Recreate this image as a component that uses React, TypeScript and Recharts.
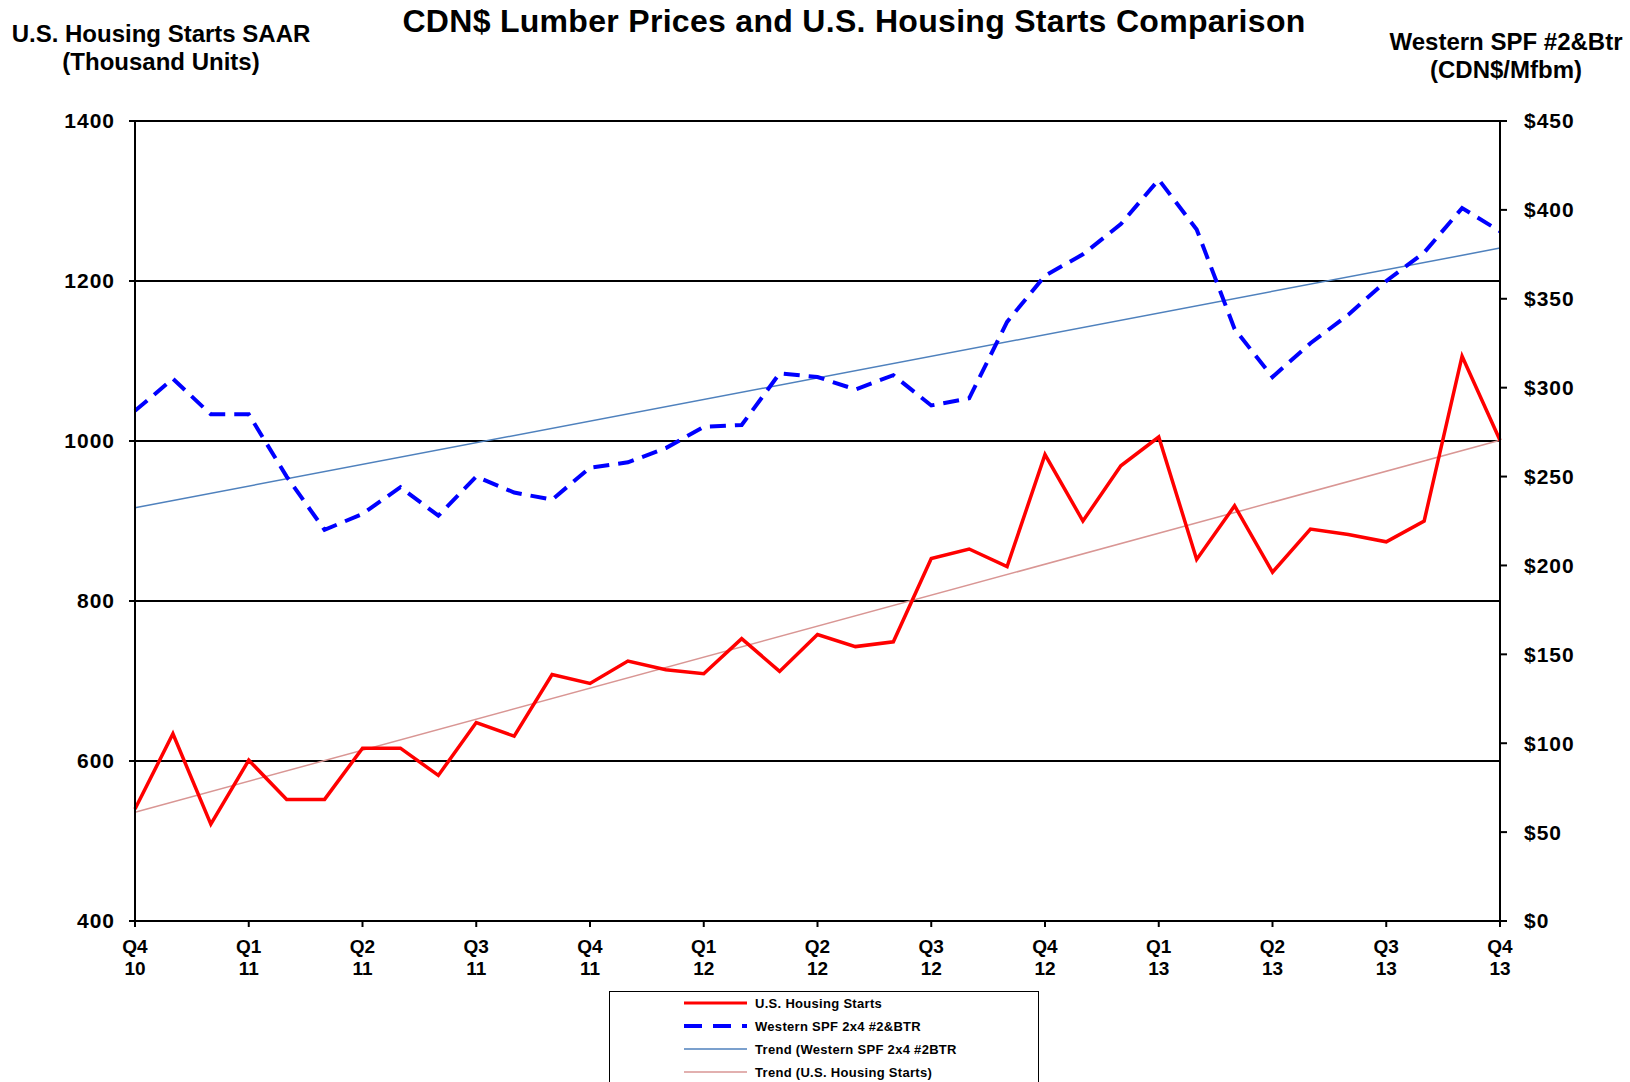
import React from "react";
import { LineChart, Line, XAxis, YAxis, CartesianGrid } from "recharts";

// monthly, Oct 2010 .. Oct 2013
const months = [
  "2010-10", "2010-11", "2010-12",
  "2011-01", "2011-02", "2011-03", "2011-04", "2011-05", "2011-06",
  "2011-07", "2011-08", "2011-09", "2011-10", "2011-11", "2011-12",
  "2012-01", "2012-02", "2012-03", "2012-04", "2012-05", "2012-06",
  "2012-07", "2012-08", "2012-09", "2012-10", "2012-11", "2012-12",
  "2013-01", "2013-02", "2013-03", "2013-04", "2013-05", "2013-06",
  "2013-07", "2013-08", "2013-09", "2013-10",
];

// one label per quarter (every 3rd month)
const quarterTicks = [
  ["Q4", "10"], ["Q1", "11"], ["Q2", "11"], ["Q3", "11"], ["Q4", "11"],
  ["Q1", "12"], ["Q2", "12"], ["Q3", "12"], ["Q4", "12"],
  ["Q1", "13"], ["Q2", "13"], ["Q3", "13"], ["Q4", "13"],
];

// U.S. housing starts, SAAR, thousand units
const housingStarts = [
  540, 634, 521, 601, 552, 552, 616, 616, 582, 648, 631, 708, 697, 725, 714,
  709, 753, 712, 758, 743, 749, 853, 865, 843, 983, 900, 969, 1005, 852, 919,
  836, 890, 883, 874, 900, 1106, 1001,
];

// Western SPF 2x4 #2&Btr, CDN$/Mfbm
const lumberPrice = [
  287, 305, 285, 285, 250, 220, 229, 244, 228, 250, 241, 237, 255, 258, 266,
  278, 279, 308, 306, 299, 307, 290, 294, 337, 363, 375, 392, 417, 389, 333,
  306, 325, 341, 360, 376, 401, 388,
];

// trend line end points (first and last month)
const lumberTrendEnds = [232.5, 378.5];
const startsTrendEnds = [536, 1001];

const leftTicks = [400, 600, 800, 1000, 1200, 1400];
const rightTicks = [0, 50, 100, 150, 200, 250, 300, 350, 400, 450];

const last = months.length - 1;
const data = months.map((m, i) => ({
  month: m,
  starts: housingStarts[i],
  lumber: lumberPrice[i],
  lumberTrend: i === 0 ? lumberTrendEnds[0] : i === last ? lumberTrendEnds[1] : null,
  startsTrend: i === 0 ? startsTrendEnds[0] : i === last ? startsTrendEnds[1] : null,
}));

const FONT = "'Liberation Sans', Arial, sans-serif";

const QuarterTick = (props: any) => {
  const { x, y, payload } = props;
  const q = quarterTicks[Math.round(payload.index / 3)] ?? ["", ""];
  return (
    <g>
      <text x={x} y={y + 24} textAnchor="middle" fontSize={19} fontWeight="bold" fill="#000" fontFamily={FONT}>
        {q[0]}
      </text>
      <text x={x} y={y + 46} textAnchor="middle" fontSize={19} fontWeight="bold" fill="#000" fontFamily={FONT}>
        {q[1]}
      </text>
    </g>
  );
};

const legendItems = [
  { label: "U.S. Housing Starts", color: "#FF0000", width: 3, dash: undefined },
  { label: "Western SPF 2x4 #2&BTR", color: "#0000FF", width: 4, dash: "18 11" },
  { label: "Trend (Western SPF 2x4 #2BTR", color: "#4F81BD", width: 1.5, dash: undefined },
  { label: "Trend (U.S. Housing Starts)", color: "#D99694", width: 1.5, dash: undefined },
];

export default function App() {
  const tickStyle = { fontSize: 21, fontWeight: "bold", fill: "#000", fontFamily: FONT, letterSpacing: 1 };
  return (
    <div style={{ position: "absolute", left: 0, top: 0, width: 1630, height: 1082, background: "#fff", fontFamily: FONT }}>
      <div style={{ position: "absolute", left: 854, top: 3, transform: "translateX(-50%)", whiteSpace: "nowrap", fontSize: 32, fontWeight: "bold", letterSpacing: 0.3 }}>
        CDN$ Lumber Prices and U.S. Housing Starts Comparison
      </div>
      <div style={{ position: "absolute", left: 161, top: 20, transform: "translateX(-50%)", whiteSpace: "nowrap", fontSize: 24, fontWeight: "bold", textAlign: "center", lineHeight: "28px" }}>
        U.S. Housing Starts SAAR
        <br />
        (Thousand Units)
      </div>
      <div style={{ position: "absolute", left: 1506, top: 28, transform: "translateX(-50%)", whiteSpace: "nowrap", fontSize: 24, fontWeight: "bold", textAlign: "center", lineHeight: "28px" }}>
        Western SPF #2&amp;Btr
        <br />
        (CDN$/Mfbm)
      </div>

      <LineChart width={1630} height={1082} data={data} margin={{ top: 121, right: 0, bottom: 0, left: 0 }}>
        <CartesianGrid yAxisId="left" vertical={false} stroke="#000" strokeWidth={2} />
        <XAxis
          dataKey="month"
          interval={2}
          height={161}
          stroke="#000"
          strokeWidth={2}
          tickSize={6}
          tickMargin={2}
          tick={<QuarterTick />}
          padding={{ left: 0, right: 0 }}
        />
        <YAxis
          yAxisId="left"
          orientation="left"
          width={135}
          domain={[400, 1400]}
          ticks={leftTicks}
          stroke="#000"
          strokeWidth={2}
          tickSize={6}
          tickMargin={14}
          tick={tickStyle}
        />
        <YAxis
          yAxisId="right"
          orientation="right"
          width={130}
          domain={[0, 450]}
          ticks={rightTicks}
          stroke="#000"
          strokeWidth={2}
          tickSize={7}
          tickMargin={17}
          tick={tickStyle}
          tickFormatter={(v: number) => `$${v}`}
        />
        <Line yAxisId="right" dataKey="lumberTrend" stroke="#4F81BD" strokeWidth={1.5} dot={false} activeDot={false} connectNulls isAnimationActive={false} />
        <Line yAxisId="left" dataKey="startsTrend" stroke="#D99694" strokeWidth={1.5} dot={false} activeDot={false} connectNulls isAnimationActive={false} />
        <Line yAxisId="right" type="linear" dataKey="lumber" stroke="#0000FF" strokeWidth={4} strokeDasharray="16 9" dot={false} activeDot={false} isAnimationActive={false} />
        <Line yAxisId="left" type="linear" dataKey="starts" stroke="#FF0000" strokeWidth={3.5} dot={false} activeDot={false} isAnimationActive={false} />
      </LineChart>

      <div style={{ position: "absolute", left: 609, top: 991, width: 430, height: 95, border: "1px solid #000", boxSizing: "border-box" }}>
        {legendItems.map((it, i) => (
          <div key={it.label} style={{ position: "absolute", left: 0, top: 0 + i * 23, height: 22, display: "flex", alignItems: "center" }}>
            <svg width={150} height={22} style={{ display: "block" }}>
              <line x1={74} x2={137} y1={11} y2={11} stroke={it.color} strokeWidth={it.width} strokeDasharray={it.dash} />
            </svg>
            <span style={{ fontSize: 13, fontWeight: "bold", whiteSpace: "nowrap", marginLeft: -5, letterSpacing: 0.3 }}>{it.label}</span>
          </div>
        ))}
      </div>
    </div>
  );
}
